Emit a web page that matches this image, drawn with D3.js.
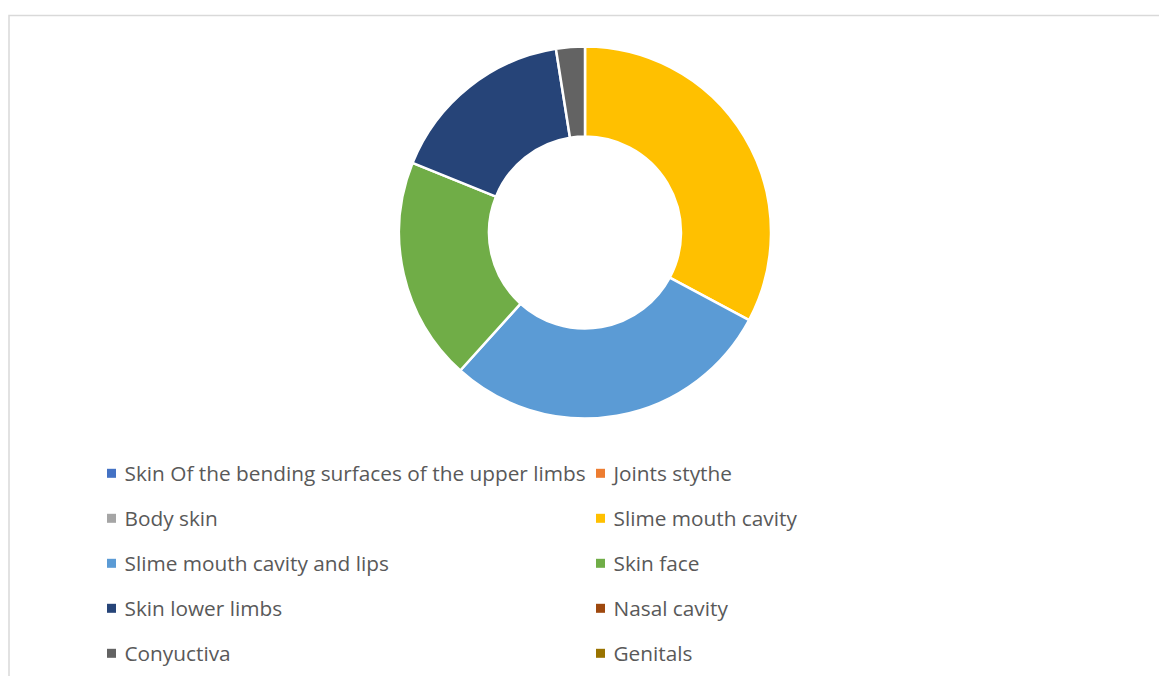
<!DOCTYPE html>
<html>
<head>
<meta charset="utf-8">
<script src="https://cdn.jsdelivr.net/npm/d3@7"></script>
<style>
  html, body { margin: 0; padding: 0; background: #fff; }
  svg { display: block; }
  .legend text { font-family: "Open Sans", "Noto Sans", sans-serif; fill: #595959; }
</style>
</head>
<body>
<svg id="chart" width="1159" height="676"></svg>
<script>
// Localisation of lesions
const categories = [
  "Skin Of the bending surfaces of the upper limbs",
  "Joints stythe",
  "Body skin",
  "Slime mouth cavity",
  "Slime mouth cavity and lips",
  "Skin face",
  "Skin lower limbs",
  "Nasal cavity",
  "Conyuctiva",
  "Genitals"
];
const values = [0, 0, 0, 32.8, 28.9, 19.4, 16.4, 0, 2.5, 0];
const colors = [
  "#4472C4", "#ED7D31", "#A5A5A5", "#FFC000", "#5B9BD5",
  "#70AD47", "#264478", "#9E480E", "#636363", "#997300"
];

const svg = d3.select("#chart");
const W = 1159, H = 676;

// chart area frame
svg.append("rect")
  .attr("x", 9).attr("y", 15.5)
  .attr("width", W + 10).attr("height", H + 10)
  .attr("fill", "#fff")
  .attr("stroke", "#d9d9d9")
  .attr("stroke-width", 1.5);

const data = categories.map((c, i) => ({ name: c, value: values[i], color: colors[i] }));

const pie = d3.pie().value(d => d.value).sort(null);
const arc = d3.arc().innerRadius(96).outerRadius(186);

const g = svg.append("g").attr("transform", "translate(585,232.5)");
g.selectAll("path")
  .data(pie(data).filter(d => d.data.value > 0))
  .join("path")
  .attr("d", arc)
  .attr("fill", d => d.data.color)
  .attr("stroke", "#fff")
  .attr("stroke-width", 2.5)
  .attr("stroke-linejoin", "round");

// legend: two columns, five rows
const colX = d3.scaleOrdinal().domain([0, 1]).range([107, 596]);
const rowY = d3.scaleLinear().domain([0, 4]).range([473.3, 653.3]);

const legend = svg.append("g").attr("class", "legend");
const items = legend.selectAll("g")
  .data(data)
  .join("g")
  .attr("transform", (d, i) => `translate(${colX(i % 2)},${rowY(Math.floor(i / 2))})`);

items.append("rect")
  .attr("x", 0).attr("y", -4.5)
  .attr("width", 9).attr("height", 9)
  .attr("fill", d => d.color);

items.append("text")
  .attr("x", 17.5).attr("y", 7.6)
  .attr("font-size", 20.8)
  .text(d => d.name);
</script>
</body>
</html>
